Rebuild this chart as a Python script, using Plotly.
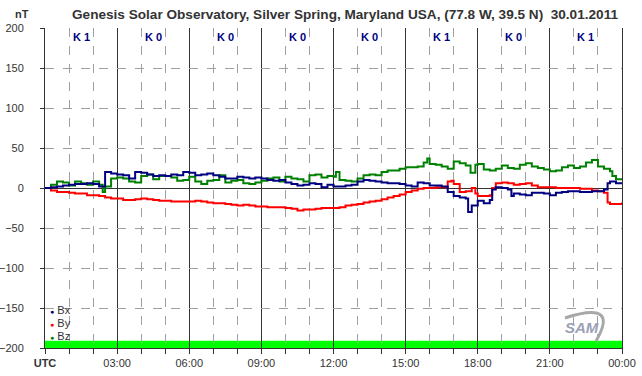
import plotly.graph_objects as go

# ---- data (hours UTC, nT) ----
bx_hours = [0, .25, .5, .75, 1, 1.25, 1.5, 1.75, 2, 2.25, 2.5, 2.75, 3, 3.25, 3.5, 3.75, 4, 4.25, 4.5, 4.75,
            5, 5.25, 5.5, 5.75, 6, 6.25, 6.5, 6.75, 7, 7.25, 7.5, 7.75, 8, 8.25, 8.5, 8.75, 9, 9.25, 9.5, 9.75,
            10, 10.25, 10.5, 10.75, 11, 11.25, 11.5, 11.75, 12, 12.25, 12.5, 12.75, 13, 13.25, 13.5, 13.75,
            14, 14.25, 14.5, 14.75, 15, 15.25, 15.5, 15.75, 16, 16.25, 16.5, 16.75, 17, 17.25, 17.5, 17.6,
            17.75, 18, 18.25, 18.5, 18.6, 18.75, 19, 19.25, 19.4, 19.5, 19.75, 20, 20.25, 20.5, 20.75, 21,
            21.25, 21.5, 21.75, 22, 22.25, 22.5, 22.75, 23, 23.25, 23.4, 23.5, 23.75, 24]
bx_values = [0, 1, 2, 3, 4, 5, 5, 6, 5, 2, 20, 18, 17, 16, 12, 20, 19, 17, 15, 16,
             15, 17, 16, 20, 19, 16, 17, 18, 16, 14, 12, 12, 14, 13, 12, 13, 12, 10, 9, 10,
             7, 5, 3, 4, 6, 5, 1, 4, 2, 2, 3, 4, 8, 10, 9, 8,
             7, 6, 6, 5, 3, 2, 7, 6, 3, 3, 2, -5, -10, -12, -13, -30,
             -22, -16, -19, -15, -2, 1, 0, -2, -10, -7, -8, -9, -6, -6, -7, -9,
             -6, -5, -4, -4, -5, -5, -4, -4, -2, 6, 8, 6, 6]

by_hours = [0, .25, .5, .75, 1, 1.25, 1.5, 1.75, 2, 2.25, 2.5, 2.75, 3, 3.25, 3.5, 3.75, 4, 4.25, 4.5, 4.75,
            5, 5.25, 5.5, 5.75, 6, 6.25, 6.5, 6.75, 7, 7.25, 7.5, 7.75, 8, 8.25, 8.5, 8.75, 9, 9.25, 9.5, 9.75,
            10, 10.25, 10.5, 10.75, 11, 11.25, 11.5, 11.75, 12, 12.25, 12.5, 12.75, 13, 13.25, 13.5, 13.75,
            14, 14.25, 14.5, 14.75, 15, 15.25, 15.5, 15.75, 16, 16.25, 16.5, 16.75, 16.9, 17, 17.25, 17.5,
            17.75, 17.9, 18, 18.25, 18.5, 18.6, 18.75, 19, 19.25, 19.5, 19.75, 20, 20.25, 20.5, 20.75, 21,
            21.25, 21.5, 21.75, 22, 22.25, 22.5, 22.75, 23, 23.25, 23.4, 23.5, 23.75, 24]
by_values = [0, -3, -5, -5, -6, -7, -7, -9, -9, -10, -12, -13, -13, -15, -15, -14, -13, -14, -15, -16,
             -16, -17, -17, -17, -17, -16, -17, -18, -19, -19, -20, -21, -22, -21, -22, -23, -23, -24, -24, -24,
             -25, -26, -28, -27, -27, -26, -25, -25, -25, -24, -22, -21, -20, -18, -17, -16,
             -14, -12, -10, -8, -5, -3, -1, 0, 0, 1, 1, 8, 9, 5, -5, -4,
             0, -7, -10, -10, -9, 0, 6, 7, 6, 4, 5, 6, 3, 1, 1, 1,
             0, 0, 0, 0, -1, -1, -3, -4, -6, -18, -20, -20, -18]

bz_hours = [0, .25, .5, .75, 1, 1.25, 1.5, 1.75, 2, 2.25, 2.4, 2.5, 2.75, 3, 3.25, 3.5, 3.75, 4, 4.25, 4.5,
            4.75, 5, 5.25, 5.5, 5.75, 6, 6.25, 6.5, 6.75, 7, 7.25, 7.5, 7.75, 8, 8.25, 8.5, 8.75, 9, 9.25,
            9.5, 9.75, 10, 10.25, 10.5, 10.75, 11, 11.25, 11.5, 11.75, 12, 12.1, 12.25, 12.5, 12.75, 13,
            13.25, 13.5, 13.75, 14, 14.25, 14.5, 14.75, 15, 15.25, 15.5, 15.75, 15.9, 16, 16.25, 16.5, 16.75,
            17, 17.25, 17.5, 17.7, 17.9, 18, 18.25, 18.5, 18.75, 19, 19.25, 19.5, 19.75, 20, 20.25, 20.5,
            20.75, 21, 21.25, 21.5, 21.75, 22, 22.25, 22.5, 22.75, 23, 23.25, 23.5, 23.6, 23.75, 24]
bz_values = [0, 4, 8, 7, 3, 8, 6, 4, 8, 4, -5, 2, 12, 13, 12, 8, 7, 15, 17, 11,
             15, 15, 13, 9, 10, 14, 8, 5, 9, 10, 16, 7, 9, 10, 6, 5, 7, 9, 12,
             13, 8, 14, 12, 11, 8, 16, 17, 13, 15, 14, 20, 10, 9, 8, 12,
             16, 17, 16, 20, 22, 22, 24, 26, 26, 27, 32, 37, 30, 29, 27, 24,
             33, 31, 28, 19, 29, 30, 23, 22, 24, 28, 25, 24, 29, 31, 27, 25,
             23, 21, 22, 26, 28, 25, 27, 32, 35, 27, 24, 21, 15, 11, 12]

tick_vals = [0, 3, 6, 9, 12, 15, 18, 21, 24]
tick_text = ["<b>UTC</b>", "03:00", "06:00", "09:00", "12:00", "15:00", "18:00", "21:00", "00:00"]
k_centers = [1.5, 4.5, 7.5, 10.5, 13.5, 16.5, 19.5, 22.5]
k_labels = ["K 1", "K 0", "K 0", "K 0", "K 0", "K 1", "K 0", "K 1"]

FONT = "Liberation Sans, Arial, sans-serif"
L, R, T, B = 45, 20, 28, 28
PW, PH = 642 - L - R, 376 - T - B


def px(xp):
    return (xp - L) / PW


def py(yp):
    return (376 - B - yp) / PH


fig = go.Figure()
for name, xs, ys, col in [("Bz", bz_hours, bz_values, "#008000"),
                          ("By", by_hours, by_values, "#ff0000"),
                          ("Bx", bx_hours, bx_values, "#000080")]:
    fig.add_trace(go.Scatter(x=xs, y=ys, mode="lines", name=name,
                             line=dict(color=col, width=2, shape="hv"), showlegend=False))

fig.update_layout(
    width=642, height=376,
    margin=dict(l=L, r=R, t=T, b=B, autoexpand=False),
    paper_bgcolor="white", plot_bgcolor="white",
    font=dict(family=FONT, size=11, color="#333333"),
    showlegend=False,
)
fig.update_xaxes(range=[0, 24], tickvals=tick_vals, ticktext=tick_text, automargin=False,
                 showgrid=True, gridcolor="#333333", gridwidth=1,
                 showline=True, linecolor="#333333", linewidth=1,
                 ticks="outside", ticklen=5, tickcolor="#333333",
                 zeroline=False,
                 minor=dict(dtick=1, tick0=0, showgrid=True, gridcolor="#a0a0a0",
                            griddash="dash", ticks="outside", ticklen=5, tickcolor="#333333"),
                 tickfont=dict(size=11, color="#333333"))
fig.update_yaxes(range=[-200, 200], dtick=50, tick0=0, automargin=False,
                 showgrid=True, gridcolor="#a0a0a0", griddash="dash",
                 zeroline=True, zerolinecolor="#333333", zerolinewidth=1,
                 showline=True, linecolor="#333333", linewidth=1, mirror=True,
                 ticks="outside", ticklen=4, tickcolor="#333333",
                 ticklabelstandoff=14,
                 tickfont=dict(size=11, color="#333333"))

# green K-index bar at the bottom
fig.add_shape(type="rect", xref="x", yref="y", x0=0, x1=24, y0=-200, y1=-191,
              fillcolor="#00ff00", line=dict(width=0), layer="below")

# K labels
for xc, lab in zip(k_centers, k_labels):
    fig.add_annotation(x=xc, y=189, xref="x", yref="y", text="<b>%s</b>" % lab,
                       showarrow=False, font=dict(size=11, color="#000080", family=FONT))

# title and unit
fig.add_annotation(x=px(345), y=py(14), xref="paper", yref="paper",
                   text="<b>Genesis Solar Observatory, Silver Spring, Maryland USA, (77.8 W, 39.5 N)  30.01.2011</b>",
                   showarrow=False, xanchor="center", yanchor="middle",
                   font=dict(size=13.6, color="#333333", family=FONT))
fig.add_annotation(x=px(22), y=py(14), xref="paper", yref="paper",
                   text="<b>nT</b>", showarrow=False, xanchor="center", yanchor="middle",
                   font=dict(size=11, color="#333333", family=FONT))

# legend (manual)
for i, (name, col) in enumerate([("Bx", "#000080"), ("By", "#ff0000"), ("Bz", "#008000")]):
    fig.add_annotation(x=px(48), y=py(310 + 13 * i), xref="paper", yref="paper",
                       text="<span style='color:%s;font-size:7px'>●</span> %s" % (col, name),
                       showarrow=False, xanchor="left", yanchor="middle",
                       font=dict(size=11, color="#333333", family=FONT))

# SAM logo
fig.add_annotation(x=px(582), y=py(327), xref="paper", yref="paper",
                   text="<i><b>SAM</b></i>", showarrow=False, xanchor="center", yanchor="middle",
                   font=dict(size=15, color="#9aa0b5", family=FONT))
fig.add_shape(type="path", xref="paper", yref="paper",
              path="M %f %f Q %f %f %f %f" % (px(565), py(318), px(620), py(300), px(596), py(341)),
              line=dict(color="#a8a8a8", width=3))

fig.write_html("out.html", config={"displayModeBar": False},
               post_script="document.body.style.margin='0';document.body.style.overflow='hidden';")
